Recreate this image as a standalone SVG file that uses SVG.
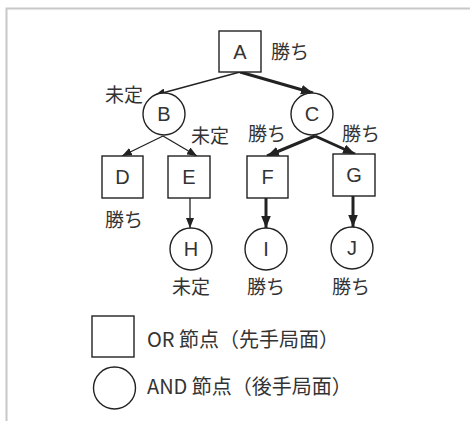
<svg xmlns="http://www.w3.org/2000/svg" width="470" height="421" viewBox="0 0 470 421">
<defs>
<style>
.node{fill:#fff;stroke:#222;stroke-width:1.4}
.lbl{font-family:"Liberation Sans",Arial,sans-serif;font-size:20px;fill:#333;text-anchor:middle;dominant-baseline:central}
.jp{font-family:"Noto Sans CJK JP","Noto Sans",sans-serif;font-size:19px;fill:#333;dominant-baseline:central}
.leg{font-family:"Noto Sans CJK JP","Noto Sans",sans-serif;font-size:20px;fill:#333;dominant-baseline:central}
.thin{stroke:#222;stroke-width:1.3;fill:none}
.thick{stroke:#222;stroke-width:3;fill:none}
</style>
<marker id="ah" viewBox="0 0 10 8" refX="10" refY="4" markerWidth="10" markerHeight="8" markerUnits="userSpaceOnUse" orient="auto"><path d="M0,0 L10,4 L0,8 Z" fill="#222"/></marker>
<marker id="ahb" viewBox="0 0 10 8" refX="10" refY="4" markerWidth="12" markerHeight="10" markerUnits="userSpaceOnUse" orient="auto"><path d="M0,0 L10,4 L0,8 Z" fill="#222"/></marker>
</defs>
<rect width="470" height="421" fill="#fff"/>
<path d="M6.5,421 V8.5 H470" fill="none" stroke="#c8c8c8" stroke-width="2"/>
<g id="connectors">
<line class="thin" x1="240" y1="72" x2="155" y2="95" marker-end="url(#ah)"/>
<line class="thick" x1="240" y1="72" x2="313" y2="93" marker-end="url(#ahb)"/>
<line class="thin" x1="163" y1="136" x2="122" y2="156" marker-end="url(#ah)"/>
<line class="thin" x1="163" y1="136" x2="197" y2="156" marker-end="url(#ah)"/>
<line class="thick" x1="315" y1="136" x2="267" y2="156" marker-end="url(#ahb)"/>
<line class="thick" x1="315" y1="136" x2="355" y2="154" marker-end="url(#ahb)"/>
<line class="thin" x1="190" y1="198" x2="190" y2="228" marker-end="url(#ah)"/>
<line class="thick" x1="266" y1="198" x2="266" y2="228" marker-end="url(#ahb)"/>
<line class="thick" x1="353" y1="196" x2="353" y2="227" marker-end="url(#ahb)"/>
</g>
<g id="A"><rect class="node" x="219" y="31" width="42" height="41"/><text class="lbl" x="240" y="52">A</text><text class="jp" x="271" y="50">勝ち</text></g>
<g id="B"><circle class="node" cx="164" cy="114" r="21"/><text class="lbl" x="164" y="114">B</text><text class="jp" x="105" y="93">未定</text><text class="jp" x="191" y="134">未定</text></g>
<g id="C"><circle class="node" cx="312" cy="114" r="21"/><text class="lbl" x="312" y="114">C</text><text class="jp" x="248" y="132">勝ち</text><text class="jp" x="342" y="132">勝ち</text></g>
<g id="D"><rect class="node" x="102" y="156" width="41" height="42"/><text class="lbl" x="122.5" y="177">D</text><text class="jp" x="105" y="218">勝ち</text></g>
<g id="E"><rect class="node" x="168" y="156" width="42" height="42"/><text class="lbl" x="189" y="177">E</text></g>
<g id="F"><rect class="node" x="247" y="156" width="41" height="42"/><text class="lbl" x="267.5" y="177">F</text></g>
<g id="G"><rect class="node" x="333" y="154" width="42" height="42"/><text class="lbl" x="354" y="175">G</text></g>
<g id="H"><circle class="node" cx="191" cy="249" r="21"/><text class="lbl" x="191" y="249">H</text><text class="jp" x="172" y="285">未定</text></g>
<g id="I"><circle class="node" cx="266" cy="249" r="21"/><text class="lbl" x="266" y="249">I</text><text class="jp" x="247" y="285">勝ち</text></g>
<g id="J"><circle class="node" cx="352" cy="248" r="21"/><text class="lbl" x="352" y="248">J</text><text class="jp" x="332" y="285">勝ち</text></g>
<g id="legend">
<rect class="node" x="92" y="316" width="42" height="41"/><text class="leg" x="147" y="338">OR 節点（先手局面）</text>
<circle class="node" cx="114.5" cy="388" r="21"/><text class="leg" x="147" y="385">AND 節点（後手局面）</text>
</g>
</svg>
